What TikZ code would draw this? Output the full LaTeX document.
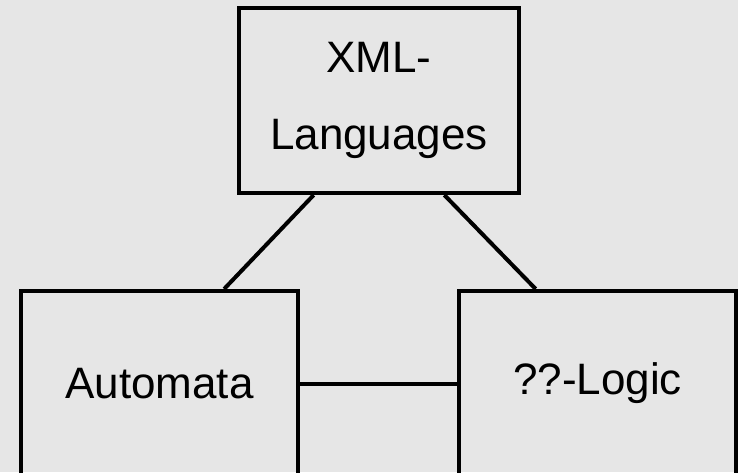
\documentclass[tikz,border=0pt]{standalone}
\usepackage{fontspec}
\setmainfont{Liberation Sans}
\usetikzlibrary{positioning, calc}
\definecolor{bggray}{HTML}{E6E6E6}

\begin{document}
\begin{tikzpicture}[
  x=1pt, y=-1pt,
  every node/.style={font=\fontsize{44}{77}\selectfont},
  box/.style={draw, line width=4pt, minimum width=280pt, minimum height=185pt, align=center},
  link/.style={line width=4pt}
]
\useasboundingbox (0,0) rectangle (738,472);
\fill[bggray] (0,0) rectangle (738,472);
\clip (0,0) rectangle (738,472);

% Boxes
\node[box] (xml) at (379,100.5) {XML-\\Languages};
\node[box, minimum width=277pt, below left=94pt and -63pt of xml] (auto) {Automata};
\node[box, minimum width=277pt, right=157pt of auto] (logic) {??-Logic};

% Connections
\draw[link] ($(xml.south west)!0.27!(xml.south east)$) -- ($(auto.north west)!0.73!(auto.north east)$);
\draw[link] ($(xml.south west)!0.73!(xml.south east)$) -- ($(logic.north west)!0.28!(logic.north east)$);
\draw[link] (auto) -- (logic);
\end{tikzpicture}
\end{document}
